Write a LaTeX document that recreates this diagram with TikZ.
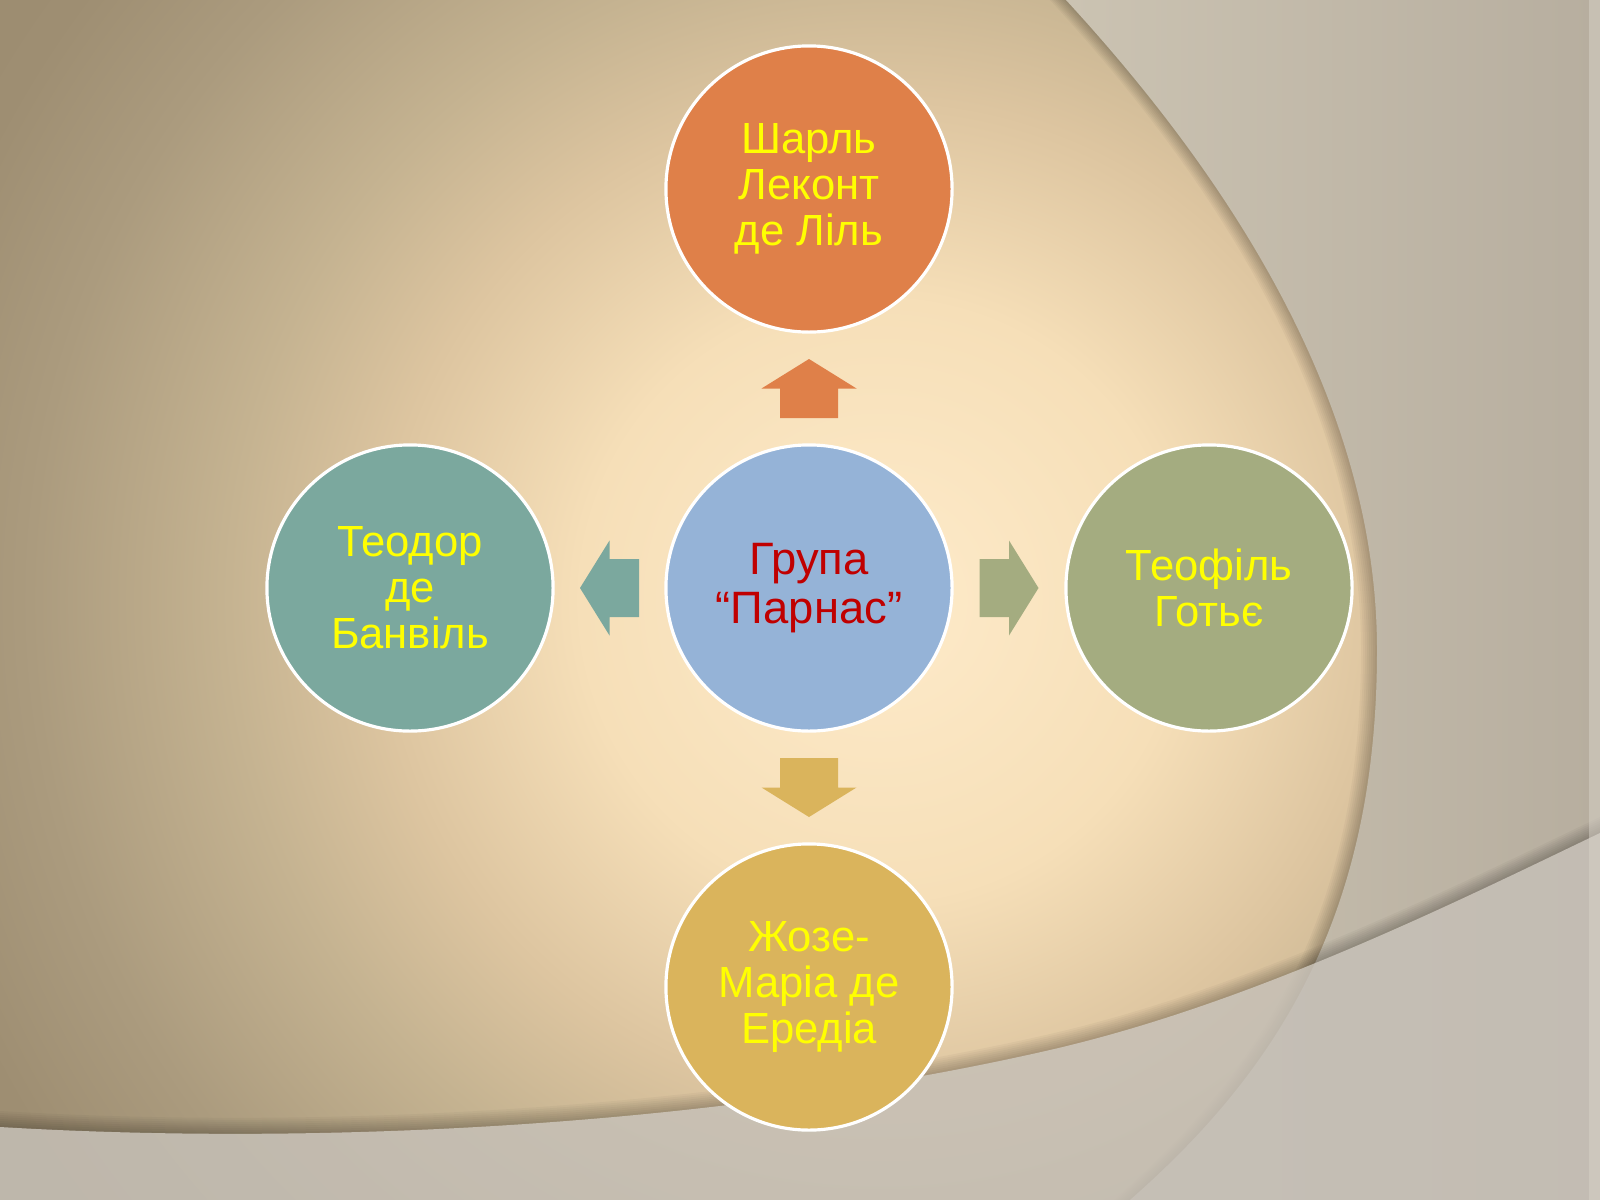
\documentclass[tikz,border=0pt]{standalone}
\usepackage{fontspec}
\setmainfont{Liberation Sans}
\usepackage{xcolor}
\usetikzlibrary{calc}

\definecolor{glow0}{HTML}{FEEBCA}
\definecolor{glow1}{HTML}{F6DFB8}
\definecolor{glow2}{HTML}{DDC5A0}
\definecolor{glow3}{HTML}{C5B391}
\definecolor{glow4}{HTML}{AB9B7E}
\definecolor{glow5}{HTML}{9E8E72}
\definecolor{glow6}{HTML}{9A8A6E}
\definecolor{panelL}{HTML}{CCC4B3}
\definecolor{panelR}{HTML}{B6AD9E}
\definecolor{bandC}{HTML}{D3CDC4}
\definecolor{edgeC}{HTML}{D8D2C8}
\definecolor{orangeC}{HTML}{DF8049}
\definecolor{blueC}{HTML}{95B3D7}
\definecolor{tealC}{HTML}{7BA89E}
\definecolor{oliveC}{HTML}{A4AC80}
\definecolor{goldC}{HTML}{DAB45C}
\definecolor{redC}{HTML}{C00000}
\definecolor{yellowC}{HTML}{FFFF00}

\pgfdeclareradialshading{slideglow}{\pgfpoint{0bp}{0bp}}{%
  color(0bp)=(glow0); color(6.8bp)=(glow1); color(11.4bp)=(glow2);
  color(14.8bp)=(glow3); color(19.3bp)=(glow4); color(22.7bp)=(glow5);
  color(27.3bp)=(glow6); color(50bp)=(glow6)}

\newcommand{\rightpanel}{(1043,-25) -- (1066,0)
  .. controls (1250,200) and (1377,420) .. (1377,650)
  .. controls (1377,900) and (1290,1060) .. (1130,1200)
  -- (1101,1225) -- (1620,1225) -- (1620,-25) -- cycle}
\newcommand{\bandpath}{(-20,1126) -- (0,1127)
  .. controls (300,1145) and (700,1130) .. (1050,1050)
  .. controls (1250,1004) and (1450,905) .. (1600,833)
  -- (1620,824) -- (1620,1225) -- (-20,1225) -- cycle}

\begin{document}
\begin{tikzpicture}[x=0.01cm, y=-0.01cm,
  person/.style={circle, draw=white, line width=0.9pt, minimum size=2.86cm,
    inner sep=0pt, align=center, text=yellowC,
    font=\fontsize{12.4}{13.1}\selectfont},
  blockarrow/.pic={\fill[pic actions] (-29.5,-29) -- (0,-29) -- (0,-47.5)
    -- (29.5,0) -- (0,47.5) -- (0,29) -- (-29.5,29) -- cycle;}]
\useasboundingbox (0,0) rectangle (1600,1200);
\begin{scope}
  \clip (0,0) rectangle (1600,1200);
  \shade[shading=slideglow] (-220,-500) rectangle (1980,1700);
  \foreach \s in {2,4,...,16} {
    \fill[black, opacity=0.03, shift={(-\s,0)}] \rightpanel;
  }
  \shade[left color=panelL, right color=panelR] \rightpanel;
  \foreach \s in {2,4,...,16} {
    \fill[black, opacity=0.03, shift={(0,-\s)}] \bandpath;
  }
  \fill[bandC, opacity=0.78] \bandpath;
  \fill[edgeC, opacity=0.5] (1589,-5) rectangle (1605,1205);
\end{scope}

\node[person, fill=blueC, text=redC, font=\fontsize{12.9}{13.7}\selectfont]
  (parnas) at (809,588) {Група\\“Парнас”};
\foreach \name/\px/\py/\col/\ang/\txt in {
  leconte/809/189/orangeC/90/{Шарль\\Леконт\\де Ліль},
  gautier/1209/588/oliveC/0/{Теофіль\\Готьє},
  heredia/809/987/goldC/-90/{Жозе-\\Маріа де\\Ередіа},
  banville/410/588/tealC/180/{Теодор\\де\\Банвіль}%
}{
  \node[person, fill=\col] (\name) at (\px,\py) {\txt};
  \pic[fill=\col, rotate=\ang] at ($(parnas)!0.5!(\name)$) {blockarrow};
}
\end{tikzpicture}
\end{document}
